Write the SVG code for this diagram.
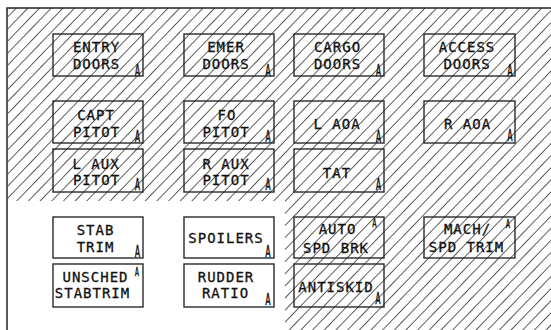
<svg xmlns="http://www.w3.org/2000/svg" width="551" height="330" viewBox="0 0 551 330">
<style>
.frame{stroke:#222;stroke-width:1.5;fill:none}
.box{fill:none;stroke:#2a2a2a;stroke-width:1.4}
.t{font-family:"DejaVu Sans Mono","Liberation Mono",monospace;font-size:14px;letter-spacing:1px;fill:#111;stroke:#111;stroke-width:0.3;text-anchor:middle}
.a{font-family:"DejaVu Sans Mono","Liberation Mono",monospace;font-size:15px;fill:#111;stroke:#111;stroke-width:0.3;text-anchor:middle}
.as{font-family:"DejaVu Sans Mono","Liberation Mono",monospace;font-size:12px;fill:#111;stroke:#111;stroke-width:0.3;text-anchor:middle}
</style>
<defs>
<pattern id="hatch" patternUnits="userSpaceOnUse" width="8.4" height="8.4" patternTransform="rotate(44)">
<line x1="0" y1="-1" x2="0" y2="9.4" stroke="#111" stroke-width="1.35"/>
</pattern>
</defs>
<rect width="551" height="330" fill="#fff"/>
<g id="hatching">
<rect x="8" y="8" width="543" height="193" fill="url(#hatch)"/>
<rect x="285" y="201" width="266" height="129" fill="url(#hatch)"/>
</g>
<g id="frame">
<path class="frame" d="M7,330 V8 H551"/>
</g>
<g id="connectors"></g>

<g id="entry-doors">
<rect class="box" x="53" y="34" width="90" height="42"/>
<text class="t" x="96.5" y="52">ENTRY</text>
<text class="t" x="96.5" y="69">DOORS</text>
<text class="a" transform="translate(137.5 75.5) scale(0.6 1)">A</text>
</g>
<g id="emer-doors">
<rect class="box" x="184" y="34" width="90" height="42"/>
<text class="t" x="226" y="52">EMER</text>
<text class="t" x="226" y="69">DOORS</text>
<text class="a" transform="translate(268 75.5) scale(0.6 1)">A</text>
</g>
<g id="cargo-doors">
<rect class="box" x="294" y="34" width="90" height="42"/>
<text class="t" x="337.5" y="52">CARGO</text>
<text class="t" x="337.5" y="69">DOORS</text>
<text class="a" transform="translate(378.5 75.5) scale(0.6 1)">A</text>
</g>
<g id="access-doors">
<rect class="box" x="424" y="34" width="91" height="42"/>
<text class="t" x="467" y="52">ACCESS</text>
<text class="t" x="467" y="69">DOORS</text>
<text class="a" transform="translate(510 75.5) scale(0.6 1)">A</text>
</g>

<g id="capt-pitot">
<rect class="box" x="53" y="101" width="90" height="42"/>
<text class="t" x="96" y="120">CAPT</text>
<text class="t" x="96.5" y="137">PITOT</text>
<text class="a" transform="translate(137.5 142) scale(0.6 1)">A</text>
</g>
<g id="fo-pitot">
<rect class="box" x="184" y="101" width="90" height="42"/>
<text class="t" x="227" y="120">FO</text>
<text class="t" x="226" y="137">PITOT</text>
<text class="a" transform="translate(268 142) scale(0.6 1)">A</text>
</g>
<g id="l-aoa">
<rect class="box" x="294" y="101" width="90" height="42"/>
<text class="t" x="337" y="129">L AOA</text>
<text class="a" transform="translate(378.5 142) scale(0.6 1)">A</text>
</g>
<g id="r-aoa">
<rect class="box" x="424" y="101" width="91" height="42"/>
<text class="t" x="467.5" y="129">R AOA</text>
<text class="a" transform="translate(510 141) scale(0.6 1)">A</text>
</g>

<g id="l-aux-pitot">
<rect class="box" x="53" y="149" width="90" height="43"/>
<text class="t" x="96" y="169">L AUX</text>
<text class="t" x="96.5" y="185">PITOT</text>
<text class="a" transform="translate(137.5 190) scale(0.6 1)">A</text>
</g>
<g id="r-aux-pitot">
<rect class="box" x="184" y="149" width="90" height="43"/>
<text class="t" x="226" y="169">R AUX</text>
<text class="t" x="226" y="185">PITOT</text>
<text class="a" transform="translate(268 190) scale(0.6 1)">A</text>
</g>
<g id="tat">
<rect class="box" x="294" y="149" width="90" height="43"/>
<text class="t" x="337" y="178">TAT</text>
<text class="a" transform="translate(378.5 190) scale(0.6 1)">A</text>
</g>

<g id="stab-trim">
<rect class="box" x="53" y="217" width="90" height="41"/>
<text class="t" x="95.5" y="235">STAB</text>
<text class="t" x="95.5" y="252">TRIM</text>
<text class="a" transform="translate(137.5 257) scale(0.6 1)">A</text>
</g>
<g id="spoilers">
<rect class="box" x="184" y="217" width="90" height="41"/>
<text class="t" x="226" y="243">SPOILERS</text>
<text class="a" transform="translate(268 257) scale(0.6 1)">A</text>
</g>
<g id="auto-spd-brk">
<rect class="box" x="294" y="217" width="90" height="41"/>
<text class="t" x="337.5" y="234">AUTO</text>
<text class="t" x="336" y="253">SPD BRK</text>
<text class="as" transform="translate(374.5 227) scale(0.6 1)">A</text>
</g>
<g id="mach-spd-trim">
<rect class="box" x="424" y="217" width="91" height="41"/>
<text class="t" x="467.5" y="234">MACH/</text>
<text class="t" x="466.5" y="252">SPD TRIM</text>
<text class="as" transform="translate(508 228) scale(0.6 1)">A</text>
</g>

<g id="unsched-stabtrim">
<rect class="box" x="53" y="264" width="90" height="43"/>
<text class="t" x="95.5" y="282">UNSCHED</text>
<text class="t" x="92.5" y="298">STABTRIM</text>
<text class="as" transform="translate(137 276) scale(0.6 1)">A</text>
</g>
<g id="rudder-ratio">
<rect class="box" x="184" y="264" width="90" height="43"/>
<text class="t" x="226" y="282">RUDDER</text>
<text class="t" x="225.5" y="298">RATIO</text>
<text class="a" transform="translate(268 305) scale(0.6 1)">A</text>
</g>
<g id="antiskid">
<rect class="box" x="294" y="264" width="90" height="43"/>
<text class="t" x="336" y="292">ANTISKID</text>
<text class="a" transform="translate(378 304) scale(0.6 1)">A</text>
</g>
</svg>
